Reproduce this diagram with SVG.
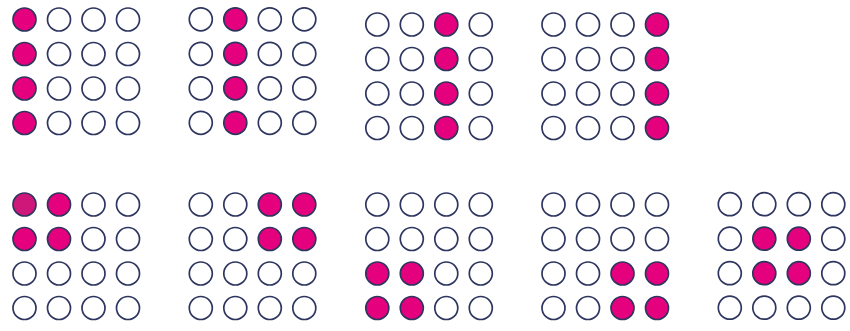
<svg xmlns="http://www.w3.org/2000/svg" width="850" height="331" viewBox="0 0 850 331">
<style>
circle{stroke:#2e3660;stroke-width:1.7;fill:#ffffff}
circle.on{fill:#e5007d}
circle.on2{fill:#cf1779}
</style>
<rect width="850" height="331" fill="#ffffff"/>
<g id="grid1" transform="translate(24.5,19.5)">
<circle class="on" cx="0" cy="0" r="11.5"/><circle cx="34.5" cy="0" r="11.5"/><circle cx="69" cy="0" r="11.5"/><circle cx="103.5" cy="0" r="11.5"/>
<circle class="on" cx="0" cy="34.5" r="11.5"/><circle cx="34.5" cy="34.5" r="11.5"/><circle cx="69" cy="34.5" r="11.5"/><circle cx="103.5" cy="34.5" r="11.5"/>
<circle class="on" cx="0" cy="69" r="11.5"/><circle cx="34.5" cy="69" r="11.5"/><circle cx="69" cy="69" r="11.5"/><circle cx="103.5" cy="69" r="11.5"/>
<circle class="on" cx="0" cy="103.5" r="11.5"/><circle cx="34.5" cy="103.5" r="11.5"/><circle cx="69" cy="103.5" r="11.5"/><circle cx="103.5" cy="103.5" r="11.5"/>
</g>
<g id="grid2" transform="translate(200.8,19.3)">
<circle cx="0" cy="0" r="11.5"/><circle class="on" cx="34.5" cy="0" r="11.5"/><circle cx="69" cy="0" r="11.5"/><circle cx="103.5" cy="0" r="11.5"/>
<circle cx="0" cy="34.5" r="11.5"/><circle class="on" cx="34.5" cy="34.5" r="11.5"/><circle cx="69" cy="34.5" r="11.5"/><circle cx="103.5" cy="34.5" r="11.5"/>
<circle cx="0" cy="69" r="11.5"/><circle class="on" cx="34.5" cy="69" r="11.5"/><circle cx="69" cy="69" r="11.5"/><circle cx="103.5" cy="69" r="11.5"/>
<circle cx="0" cy="103.5" r="11.5"/><circle class="on" cx="34.5" cy="103.5" r="11.5"/><circle cx="69" cy="103.5" r="11.5"/><circle cx="103.5" cy="103.5" r="11.5"/>
</g>
<g id="grid3" transform="translate(377.3,24.5)">
<circle cx="0" cy="0" r="11.5"/><circle cx="34.5" cy="0" r="11.5"/><circle class="on" cx="69" cy="0" r="11.5"/><circle cx="103.5" cy="0" r="11.5"/>
<circle cx="0" cy="34.5" r="11.5"/><circle cx="34.5" cy="34.5" r="11.5"/><circle class="on" cx="69" cy="34.5" r="11.5"/><circle cx="103.5" cy="34.5" r="11.5"/>
<circle cx="0" cy="69" r="11.5"/><circle cx="34.5" cy="69" r="11.5"/><circle class="on" cx="69" cy="69" r="11.5"/><circle cx="103.5" cy="69" r="11.5"/>
<circle cx="0" cy="103.5" r="11.5"/><circle cx="34.5" cy="103.5" r="11.5"/><circle class="on" cx="69" cy="103.5" r="11.5"/><circle cx="103.5" cy="103.5" r="11.5"/>
</g>
<g id="grid4" transform="translate(553.5,24.5)">
<circle cx="0" cy="0" r="11.5"/><circle cx="34.5" cy="0" r="11.5"/><circle cx="69" cy="0" r="11.5"/><circle class="on" cx="103.5" cy="0" r="11.5"/>
<circle cx="0" cy="34.5" r="11.5"/><circle cx="34.5" cy="34.5" r="11.5"/><circle cx="69" cy="34.5" r="11.5"/><circle class="on" cx="103.5" cy="34.5" r="11.5"/>
<circle cx="0" cy="69" r="11.5"/><circle cx="34.5" cy="69" r="11.5"/><circle cx="69" cy="69" r="11.5"/><circle class="on" cx="103.5" cy="69" r="11.5"/>
<circle cx="0" cy="103.5" r="11.5"/><circle cx="34.5" cy="103.5" r="11.5"/><circle cx="69" cy="103.5" r="11.5"/><circle class="on" cx="103.5" cy="103.5" r="11.5"/>
</g>
<g id="grid5" transform="translate(24.5,204.5)">
<circle class="on2" cx="0" cy="0" r="11.5"/><circle class="on" cx="34.5" cy="0" r="11.5"/><circle cx="69" cy="0" r="11.5"/><circle cx="103.5" cy="0" r="11.5"/>
<circle class="on" cx="0" cy="34.5" r="11.5"/><circle class="on" cx="34.5" cy="34.5" r="11.5"/><circle cx="69" cy="34.5" r="11.5"/><circle cx="103.5" cy="34.5" r="11.5"/>
<circle cx="0" cy="69" r="11.5"/><circle cx="34.5" cy="69" r="11.5"/><circle cx="69" cy="69" r="11.5"/><circle cx="103.5" cy="69" r="11.5"/>
<circle cx="0" cy="103.5" r="11.5"/><circle cx="34.5" cy="103.5" r="11.5"/><circle cx="69" cy="103.5" r="11.5"/><circle cx="103.5" cy="103.5" r="11.5"/>
</g>
<g id="grid6" transform="translate(200.8,204.5)">
<circle cx="0" cy="0" r="11.5"/><circle cx="34.5" cy="0" r="11.5"/><circle class="on" cx="69" cy="0" r="11.5"/><circle class="on" cx="103.5" cy="0" r="11.5"/>
<circle cx="0" cy="34.5" r="11.5"/><circle cx="34.5" cy="34.5" r="11.5"/><circle class="on" cx="69" cy="34.5" r="11.5"/><circle class="on" cx="103.5" cy="34.5" r="11.5"/>
<circle cx="0" cy="69" r="11.5"/><circle cx="34.5" cy="69" r="11.5"/><circle cx="69" cy="69" r="11.5"/><circle cx="103.5" cy="69" r="11.5"/>
<circle cx="0" cy="103.5" r="11.5"/><circle cx="34.5" cy="103.5" r="11.5"/><circle cx="69" cy="103.5" r="11.5"/><circle cx="103.5" cy="103.5" r="11.5"/>
</g>
<g id="grid7" transform="translate(377.3,204.5)">
<circle cx="0" cy="0" r="11.5"/><circle cx="34.5" cy="0" r="11.5"/><circle cx="69" cy="0" r="11.5"/><circle cx="103.5" cy="0" r="11.5"/>
<circle cx="0" cy="34.5" r="11.5"/><circle cx="34.5" cy="34.5" r="11.5"/><circle cx="69" cy="34.5" r="11.5"/><circle cx="103.5" cy="34.5" r="11.5"/>
<circle class="on" cx="0" cy="69" r="11.5"/><circle class="on" cx="34.5" cy="69" r="11.5"/><circle cx="69" cy="69" r="11.5"/><circle cx="103.5" cy="69" r="11.5"/>
<circle class="on" cx="0" cy="103.5" r="11.5"/><circle class="on" cx="34.5" cy="103.5" r="11.5"/><circle cx="69" cy="103.5" r="11.5"/><circle cx="103.5" cy="103.5" r="11.5"/>
</g>
<g id="grid8" transform="translate(553.5,204.5)">
<circle cx="0" cy="0" r="11.5"/><circle cx="34.5" cy="0" r="11.5"/><circle cx="69" cy="0" r="11.5"/><circle cx="103.5" cy="0" r="11.5"/>
<circle cx="0" cy="34.5" r="11.5"/><circle cx="34.5" cy="34.5" r="11.5"/><circle cx="69" cy="34.5" r="11.5"/><circle cx="103.5" cy="34.5" r="11.5"/>
<circle cx="0" cy="69" r="11.5"/><circle cx="34.5" cy="69" r="11.5"/><circle class="on" cx="69" cy="69" r="11.5"/><circle class="on" cx="103.5" cy="69" r="11.5"/>
<circle cx="0" cy="103.5" r="11.5"/><circle cx="34.5" cy="103.5" r="11.5"/><circle class="on" cx="69" cy="103.5" r="11.5"/><circle class="on" cx="103.5" cy="103.5" r="11.5"/>
</g>
<g id="grid9" transform="translate(729.8,204.2)">
<circle cx="0" cy="0" r="11.5"/><circle cx="34.5" cy="0" r="11.5"/><circle cx="69" cy="0" r="11.5"/><circle cx="103.5" cy="0" r="11.5"/>
<circle cx="0" cy="34.5" r="11.5"/><circle class="on" cx="34.5" cy="34.5" r="11.5"/><circle class="on" cx="69" cy="34.5" r="11.5"/><circle cx="103.5" cy="34.5" r="11.5"/>
<circle cx="0" cy="69" r="11.5"/><circle class="on" cx="34.5" cy="69" r="11.5"/><circle class="on" cx="69" cy="69" r="11.5"/><circle cx="103.5" cy="69" r="11.5"/>
<circle cx="0" cy="103.5" r="11.5"/><circle cx="34.5" cy="103.5" r="11.5"/><circle cx="69" cy="103.5" r="11.5"/><circle cx="103.5" cy="103.5" r="11.5"/>
</g>
<g id="connectors"/>
</svg>
